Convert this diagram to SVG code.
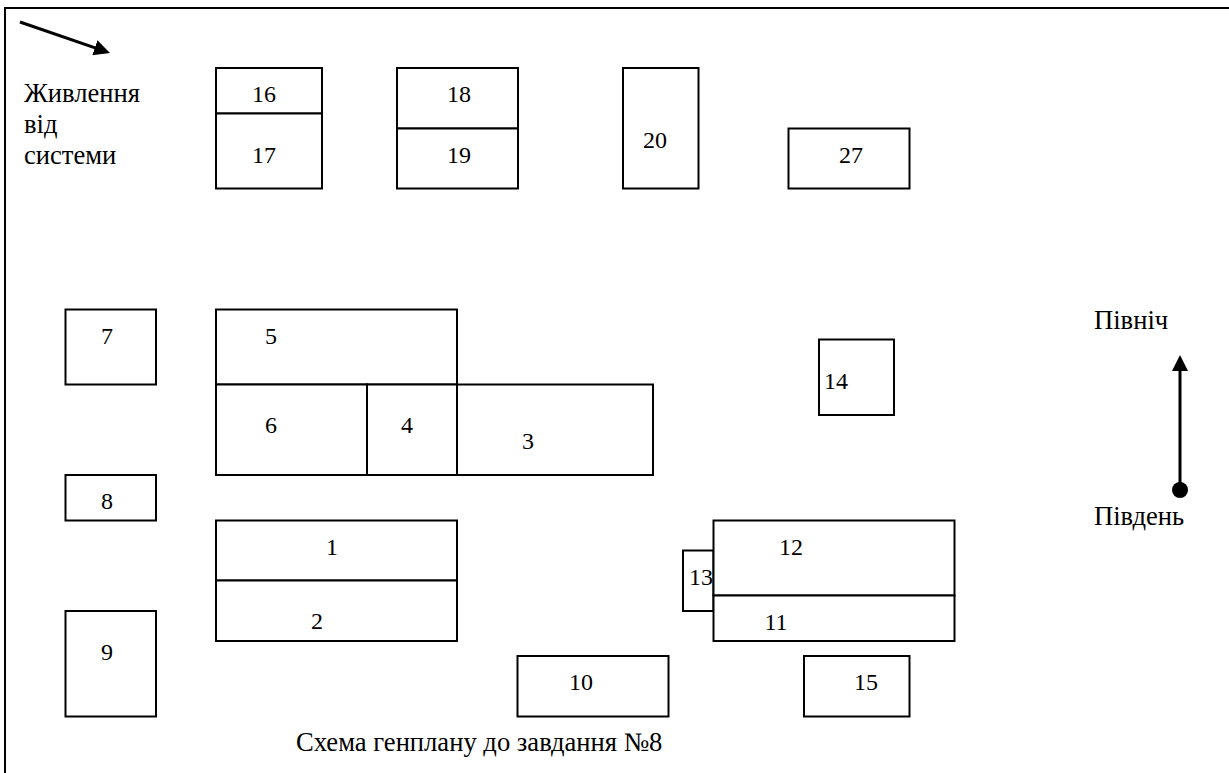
<svg xmlns="http://www.w3.org/2000/svg" width="1229" height="773" viewBox="0 0 1229 773">
<style>
rect{fill:#fff;stroke:#000;stroke-width:2}
text{font-family:"Liberation Serif","Times New Roman",serif;font-size:24px;fill:#000}
line{stroke:#000;stroke-width:3}
.n{text-anchor:middle}
.t{font-size:26.600px}
</style>
<defs><marker id="a" markerUnits="userSpaceOnUse" markerWidth="17" markerHeight="16" refX="8" refY="8" orient="auto"><path d="M0 0L16 8L0 16Z" fill="#000"/></marker></defs>
<path d="M5 773V8H1229" fill="none" stroke="#000" stroke-width="2"/>
<g id="connectors">
<line x1="20" y1="22" x2="102.400" y2="50.400" marker-end="url(#a)"/>
<line x1="1180" y1="490" x2="1180" y2="363" marker-end="url(#a)"/>
<circle cx="1180" cy="490" r="8"/>
</g>
<g id="n16"><rect x="216" y="68" width="106" height="45.500"/><text class="n" x="264" y="102">16</text></g>
<g id="n17"><rect x="216" y="113.500" width="106" height="75"/><text class="n" x="264" y="163">17</text></g>
<g id="n18"><rect x="397" y="68" width="121" height="60.500"/><text class="n" x="459" y="102">18</text></g>
<g id="n19"><rect x="397" y="128.500" width="121" height="60"/><text class="n" x="459" y="163">19</text></g>
<g id="n20"><rect x="623" y="68" width="75.500" height="120.500"/><text class="n" x="655" y="148">20</text></g>
<g id="n27"><rect x="788.500" y="128.500" width="121" height="60"/><text class="n" x="851" y="163">27</text></g>
<g id="n7"><rect x="65.500" y="309.500" width="90.500" height="75"/><text class="n" x="107" y="344">7</text></g>
<g id="n5"><rect x="216" y="309.500" width="241" height="75"/><text class="n" x="271" y="344">5</text></g>
<g id="n6"><rect x="216" y="384.500" width="151" height="90.500"/><text class="n" x="271" y="433">6</text></g>
<g id="n4"><rect x="367" y="384.500" width="90" height="90.500"/><text class="n" x="407" y="433">4</text></g>
<g id="n3"><rect x="457" y="384.500" width="196" height="90.500"/><text class="n" x="528" y="449">3</text></g>
<g id="n14"><rect x="819" y="339.500" width="75" height="75.500"/><text class="n" x="836" y="389">14</text></g>
<g id="n8"><rect x="65.500" y="475" width="90.500" height="45.500"/><text class="n" x="107" y="509">8</text></g>
<g id="n1"><rect x="216" y="520.500" width="241" height="60"/><text class="n" x="332" y="555">1</text></g>
<g id="n2"><rect x="216" y="580.500" width="241" height="60.500"/><text class="n" x="317" y="629">2</text></g>
<g id="n9"><rect x="65.500" y="611" width="90.500" height="105.500"/><text class="n" x="107" y="660">9</text></g>
<g id="n13"><rect x="683" y="550.500" width="30.500" height="60.500"/><text class="n" x="701" y="585">13</text></g>
<g id="n12"><rect x="713.500" y="520.500" width="241" height="75"/><text class="n" x="791" y="555">12</text></g>
<g id="n11"><rect x="713.500" y="595.500" width="241" height="45.500"/><text class="n" x="776" y="630">11</text></g>
<g id="n10"><rect x="517.500" y="656" width="151" height="60.500"/><text class="n" x="581" y="690">10</text></g>
<g id="n15"><rect x="804" y="656" width="105.500" height="60.500"/><text class="n" x="866" y="690">15</text></g>
<text class="t" x="24" y="102">Живлення</text>
<text class="t" x="24" y="133">від</text>
<text class="t" x="24" y="164">системи</text>
<text class="t" x="1094" y="329">Північ</text>
<text class="t" x="1094" y="525">Південь</text>
<text class="t" x="296" y="751">Схема генплану до завдання №8</text>
</svg>
